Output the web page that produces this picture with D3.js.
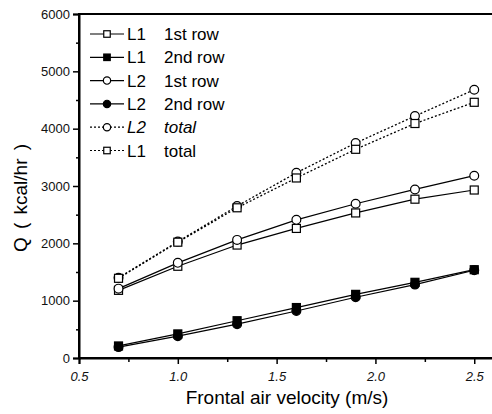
<!DOCTYPE html>
<html>
<head>
<meta charset="utf-8">
<script src="https://cdn.jsdelivr.net/npm/d3@7"></script>
<style>
  body { margin: 0; background: #fff; }
  svg { display: block; font-family: Arial, "Liberation Sans", sans-serif; }
</style>
</head>
<body>
<div id="chart"></div>
<script>
const velocity = [0.7, 1.0, 1.3, 1.6, 1.9, 2.2, 2.5];

const l1Row1 = [1180, 1600, 1970, 2260, 2530, 2770, 2930];
const l1Row2 = [210, 420, 650, 880, 1110, 1320, 1540];
const l2Row1 = [1210, 1660, 2060, 2410, 2690, 2940, 3180];
const l2Row2 = [190, 380, 590, 820, 1060, 1280, 1530];
const l2Total = [1400, 2030, 2650, 3230, 3750, 4220, 4680];
const l1Total = [1390, 2020, 2620, 3140, 3640, 4090, 4460];

const xTicks = [0.5, 1.0, 1.5, 2.0, 2.5];
const yTicks = [0, 1000, 2000, 3000, 4000, 5000, 6000];

const series = [
    { name: 'L1', tag: '1st row', values: l1Row1, marker: 'square', filled: false, dotted: false },
    { name: 'L1', tag: '2nd row', values: l1Row2, marker: 'square', filled: true, dotted: false },
    { name: 'L2', tag: '1st row', values: l2Row1, marker: 'circle', filled: false, dotted: false },
    { name: 'L2', tag: '2nd row', values: l2Row2, marker: 'circle', filled: true, dotted: false },
    { name: 'L2', tag: 'total', values: l2Total, marker: 'circle', filled: false, dotted: true, italic: true },
    { name: 'L1', tag: 'total', values: l1Total, marker: 'square', filled: false, dotted: true }
];

const width = 492, height = 414;
const svg = d3.select('#chart').append('svg')
    .attr('width', width)
    .attr('height', height);

const x = d3.scaleLinear().domain([0.5, 2.6]).range([79, 494]);
const y = d3.scaleLinear().domain([0, 6000]).range([358, 14]);

// frame (right edge falls outside the picture)
svg.append('rect')
    .attr('x', x(0.5)).attr('y', y(6000))
    .attr('width', x(2.6) - x(0.5)).attr('height', y(0) - y(6000))
    .attr('fill', 'none').attr('stroke', '#000').attr('stroke-width', 2);

// x axis
const xAxis = svg.append('g')
    .attr('transform', `translate(0,${y(0)})`)
    .call(d3.axisBottom(x).tickValues(xTicks).tickFormat(d3.format('.1f')).tickSize(6).tickPadding(8));
xAxis.select('.domain').attr('stroke-width', 2);
xAxis.selectAll('text').style('font-size', '13px').style('font-style', 'italic').attr('fill', '#111');

svg.append('g')
    .attr('transform', `translate(0,${y(0)})`)
    .call(d3.axisBottom(x).tickValues([0.75, 1.25, 1.75, 2.25]).tickFormat('').tickSize(4))
    .call(g => g.select('.domain').remove());

// y axis
const yAxis = svg.append('g')
    .attr('transform', `translate(${x(0.5)},0)`)
    .call(d3.axisLeft(y).tickValues(yTicks).tickFormat(d3.format('d')).tickSize(6).tickPadding(3));
yAxis.select('.domain').attr('stroke-width', 2);
yAxis.selectAll('text').style('font-size', '13px').attr('fill', '#111');

svg.append('g')
    .attr('transform', `translate(${x(0.5)},0)`)
    .call(d3.axisLeft(y).tickValues([500, 1500, 2500, 3500, 4500, 5500]).tickFormat('').tickSize(3))
    .call(g => g.select('.domain').remove());

svg.selectAll('.tick line').attr('stroke-width', 1.5);

// axis titles
svg.append('text')
    .attr('x', 287).attr('y', 404)
    .attr('text-anchor', 'middle')
    .style('font-size', '19px')
    .text('Frontal air velocity (m/s)');

svg.append('text')
    .attr('transform', 'translate(27,198) rotate(-90)')
    .attr('text-anchor', 'middle')
    .style('font-size', '19px')
    .style('word-spacing', '3px')
    .text('Q ( kcal/hr )');

function drawMarker(g, s, cx, cy, size) {
    const fill = s.filled ? '#000' : '#fff';
    if (s.marker === 'square') {
        g.append('rect')
            .attr('x', cx - size / 2).attr('y', cy - size / 2)
            .attr('width', size).attr('height', size)
            .attr('fill', fill).attr('stroke', '#000').attr('stroke-width', 1.2);
    } else {
        g.append('circle')
            .attr('cx', cx).attr('cy', cy).attr('r', size / 2 + 0.4)
            .attr('fill', fill).attr('stroke', '#000').attr('stroke-width', 1.2);
    }
}

const line = d3.line()
    .x((d, i) => x(velocity[i]))
    .y(d => y(d));

const plot = svg.append('g');
series.forEach(s => {
    plot.append('path')
        .datum(s.values)
        .attr('fill', 'none')
        .attr('stroke', '#000')
        .attr('stroke-width', s.dotted ? 1.3 : 1.2)
        .attr('stroke-dasharray', s.dotted ? '2,2' : null)
        .attr('d', line);
});
series.forEach(s => {
    const g = plot.append('g');
    s.values.forEach((v, i) => drawMarker(g, s, x(velocity[i]), y(v), 8));
});

// legend
const legend = svg.append('g');
series.forEach((s, i) => {
    const ly = 34 + i * 23.3;
    const g = legend.append('g');
    g.append('line')
        .attr('x1', 90).attr('x2', 124)
        .attr('y1', ly).attr('y2', ly)
        .attr('stroke', '#000').attr('stroke-width', 1.2)
        .attr('stroke-dasharray', s.dotted ? '2,2' : null);
    drawMarker(g, s, 107, ly, 6.5);
    g.append('text')
        .attr('x', 127).attr('y', ly + 6)
        .style('font-size', '17px')
        .style('font-style', s.italic ? 'italic' : 'normal')
        .text(s.name);
    g.append('text')
        .attr('x', 164).attr('y', ly + 6)
        .style('font-size', '17px')
        .style('font-style', s.italic ? 'italic' : 'normal')
        .text(s.tag);
});
</script>
</body>
</html>
